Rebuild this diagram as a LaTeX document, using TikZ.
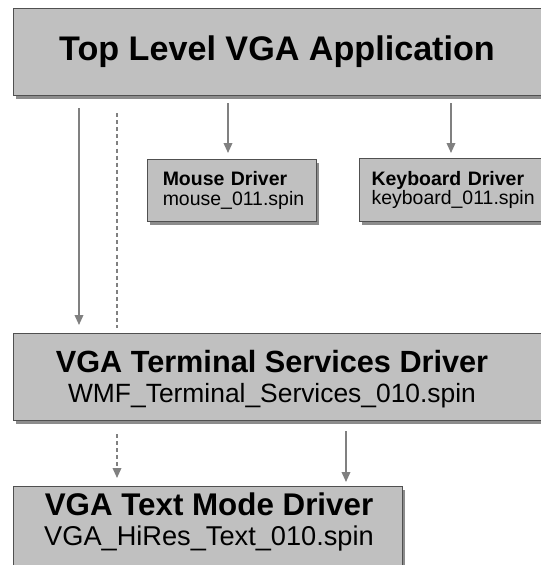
\documentclass[tikz,border=0pt]{standalone}
\usepackage{fontspec}
\setmainfont{Liberation Sans}
\usetikzlibrary{arrows.meta,shadows,calc}

\definecolor{boxfill}{RGB}{192,192,192}
\definecolor{boxline}{RGB}{80,80,80}
\definecolor{arrowgray}{RGB}{128,128,128}

\tikzset{
	panel/.style={draw=boxline, line width=0.9pt, fill=boxfill, anchor=north west,
		drop shadow={shadow xshift=2pt, shadow yshift=-2.5pt, fill=black, opacity=0.45}},
	driverbox/.style={panel, align=left, inner ysep=0pt},
	title/.style={align=center, font=\fontsize{23}{22.5}\selectfont\bfseries},
	arr/.style={draw=arrowgray, line width=1.1pt, -{Triangle[length=7.5pt,width=6.5pt]}},
	dashline/.style={draw=arrowgray, line width=1.1pt, dash pattern=on 3pt off 2.3pt}
}

\begin{document}
\begin{tikzpicture}[x=0.75pt,y=-0.75pt]
	% Frame
	\useasboundingbox (0,0) rectangle (541,565);
	\clip (0,0) rectangle (541,565);

	% Boxes
	\node[panel, minimum width=410pt, minimum height=65.25pt] (app) at (13,8) {};
	\node[font=\fontsize{25.6}{30}\selectfont\bfseries] (apptitle) at (277,52) {Top Level VGA Application};

	\node[driverbox, minimum width=126.75pt, minimum height=46.5pt, inner xsep=11.25pt, text width=104pt,
		font=\fontsize{14.6}{14.5}\selectfont] (mouse) at (147,159)
		{\textbf{Mouse Driver}\\mouse\_011.spin};
	\node[driverbox, minimum width=150pt, minimum height=47.25pt, inner xsep=9pt, text width=132pt,
		font=\fontsize{14.6}{14.5}\selectfont] (keyboard) at (359,158)
		{\textbf{Keyboard Driver}\\keyboard\_011.spin};

	\node[panel, minimum width=410pt, minimum height=65.25pt] (term) at (13,333) {};
	\node[title] (termtitle) at (272,379)
		{VGA Terminal Services Driver\\{\fontsize{19.8}{22.5}\selectfont\mdseries WMF\_Terminal\_Services\_010.spin}};

	\node[panel, minimum width=291.75pt, minimum height=75pt] (text) at (13,486) {};
	\node[title, font=\fontsize{23.5}{22.5}\selectfont\bfseries] (texttitle) at (209,522)
		{VGA Text Mode Driver\\{\fontsize{20.4}{22.5}\selectfont\mdseries VGA\_HiRes\_Text\_010.spin}};

	% Connectors
	\draw[arr] ($(app.south west)+(66,12)$) -- ($(term.north west)+(66,-8)$);
	\draw[dashline] ($(app.south west)+(104,17)$) -- ($(term.north west)+(104,-5)$);
	\draw[arr] ($(mouse.north west)+(81,-56)$) -- ($(mouse.north west)+(81,-6)$);
	\draw[arr] ($(keyboard.north west)+(92,-55)$) -- ($(keyboard.north west)+(92,-5)$);
	\draw[arr, dash pattern=on 3pt off 2.3pt] ($(term.south west)+(104,13)$) -- ($(text.north west)+(104,-8)$);
	\draw[arr] ($(term.south west)+(333,10)$) -- ($(text.north west)+(333,-4)$);
\end{tikzpicture}
\end{document}
